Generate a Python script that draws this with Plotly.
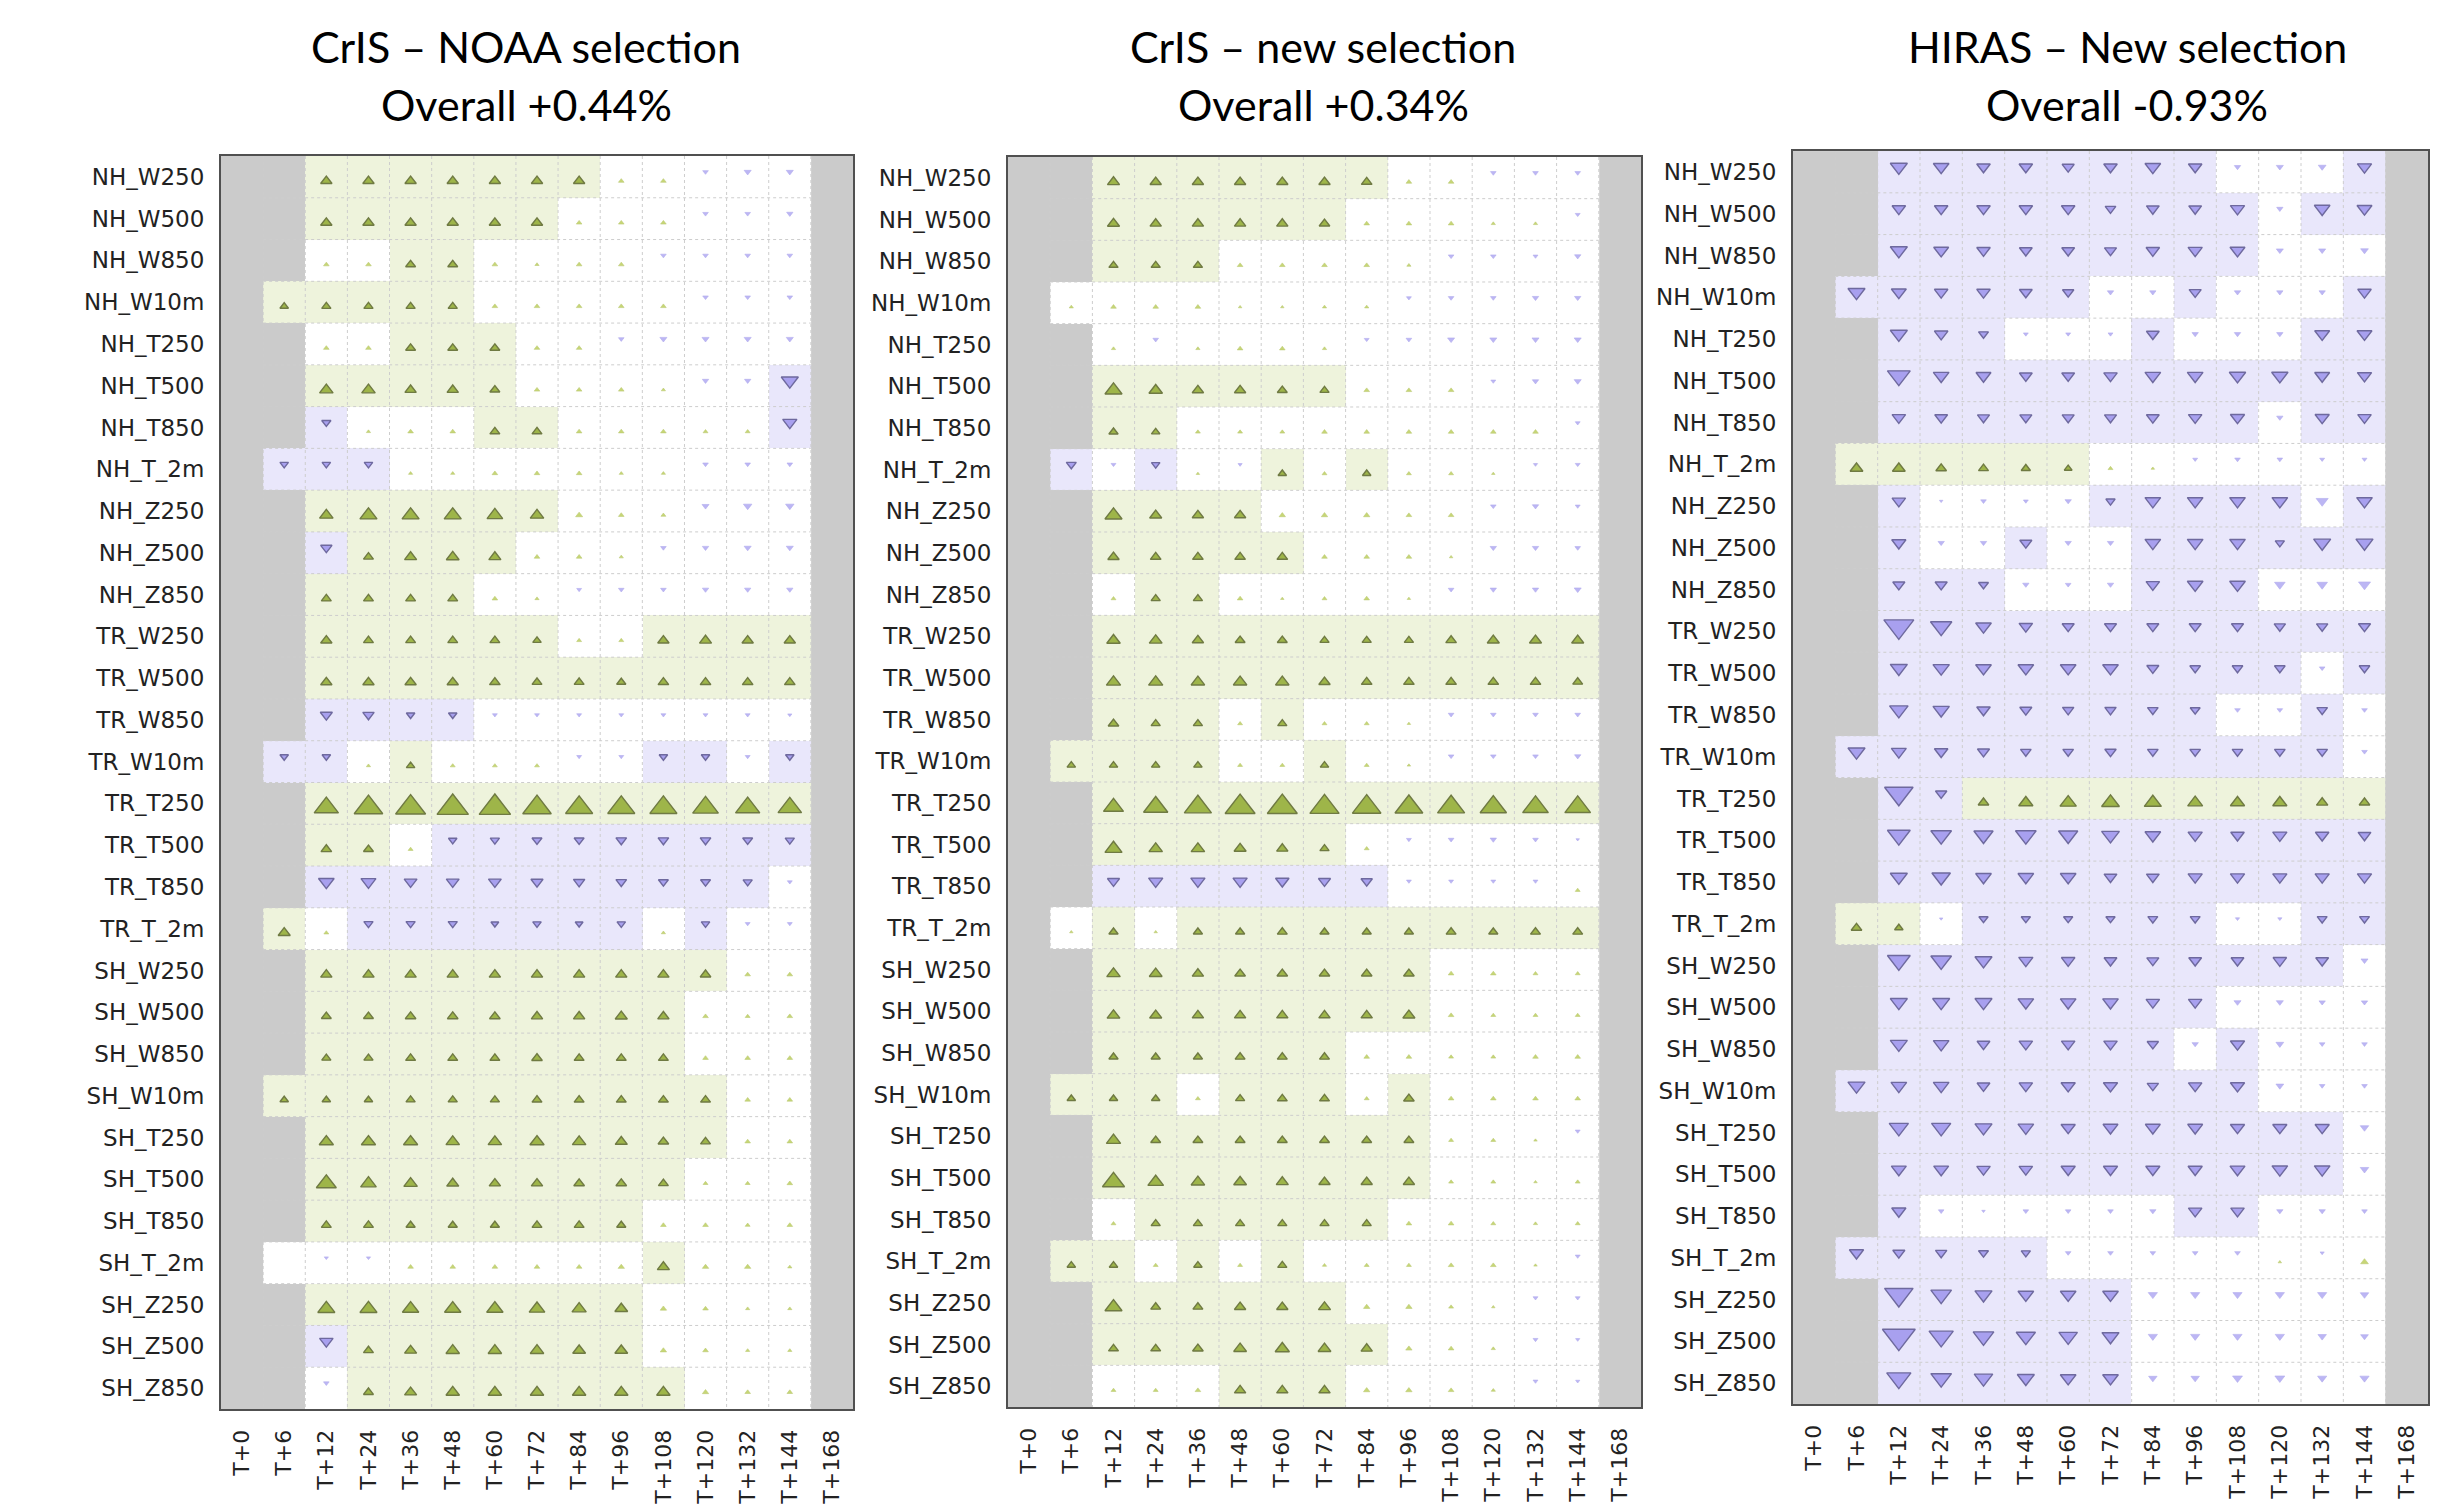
import numpy as np
import plotly.graph_objects as go

# ---------------- data ----------------
lead_times = ["T+0", "T+6", "T+12", "T+24", "T+36", "T+48", "T+60", "T+72",
              "T+84", "T+96", "T+108", "T+120", "T+132", "T+144", "T+168"]
# columns that carry scores (T+6 ... T+144)
data_leads = lead_times[1:-1]

row_labels = ["NH_W250", "NH_W500", "NH_W850", "NH_W10m", "NH_T250", "NH_T500",
              "NH_T850", "NH_T_2m", "NH_Z250", "NH_Z500", "NH_Z850",
              "TR_W250", "TR_W500", "TR_W850", "TR_W10m", "TR_T250", "TR_T500",
              "TR_T850", "TR_T_2m",
              "SH_W250", "SH_W500", "SH_W850", "SH_W10m", "SH_T250", "SH_T500",
              "SH_T850", "SH_T_2m", "SH_Z250", "SH_Z500", "SH_Z850"]

panel_titles = ["CrIS \u2013 NOAA selection", "CrIS \u2013 new selection", "HIRAS \u2013 New selection"]
panel_overall = ["Overall +0.44%", "Overall +0.34%", "Overall -0.93%"]

# significance per cell: g = better (significant), p = worse (significant), . = neutral, x = n/a
sig_noaa = [
    "xggggggg.....", "xgggggg......", "x..gg........", "ggggg........",
    "x..ggg.......", "xggggg......p", "xp...gg.....p", "ppp..........",
    "xgggggg......", "xpgggg.......", "xgggg........",
    "xgggggg..gggg", "xgggggggggggg", "xpppp........", "pp.g.....pp.p",
    "xgggggggggggg", "xgg.ppppppppp", "xppppppppppp.", "g.ppppppp.p..",
    "xgggggggggg..", "xggggggggg...", "xggggggggg...", "ggggggggggg..",
    "xgggggggggg..", "xggggggggg...", "xgggggggg....", ".........g...",
    "xgggggggg....", "xpggggggg....", "x.gggggggg...",
]
val_noaa = [
    [None, 1.2, 1.2, 1.2, 1.2, 1.2, 1.2, 1.2, 0.4, 0.4, -0.4, -0.6, -0.6],
    [None, 1.2, 1.2, 1.2, 1.2, 1.2, 1.2, 0.4, 0.4, 0.4, -0.4, -0.4, -0.5],
    [None, 0.4, 0.4, 1.0, 1.0, 0.4, 0.2, 0.4, 0.4, -0.4, -0.4, -0.4, -0.4],
    [0.8, 0.9, 0.9, 0.9, 0.9, 0.4, 0.4, 0.4, 0.4, 0.4, -0.4, -0.4, -0.4],
    [None, 0.4, 0.4, 1.0, 1.0, 1.0, 0.4, 0.4, -0.4, -0.6, -0.6, -0.6, -0.6],
    [None, 1.5, 1.5, 1.2, 1.2, 1.0, 0.4, 0.4, 0.4, 0.2, -0.5, -0.5, -2.0],
    [None, -0.9, 0.2, 0.4, 0.4, 1.0, 1.0, 0.4, 0.4, 0.4, 0.3, 0.3, -1.6],
    [-0.8, -0.8, -0.8, 0.2, 0.2, 0.4, 0.4, 0.4, 0.2, 0.2, -0.4, -0.4, -0.4],
    [None, 1.5, 2.0, 2.0, 2.0, 1.8, 1.5, 0.6, 0.4, 0.3, -0.6, -0.8, -0.8],
    [None, -1.2, 1.0, 1.3, 1.4, 1.3, 0.4, 0.4, 0.2, -0.4, -0.5, -0.6, -0.6],
    [None, 1.0, 1.0, 1.0, 1.0, 0.4, 0.2, -0.3, -0.4, -0.4, -0.5, -0.5, -0.5],
    [None, 1.2, 1.0, 1.0, 1.0, 1.0, 0.8, 0.3, 0.3, 1.2, 1.3, 1.2, 1.2],
    [None, 1.2, 1.2, 1.2, 1.2, 1.1, 1.0, 1.0, 0.9, 1.1, 1.1, 1.1, 1.1],
    [None, -1.3, -1.2, -0.8, -0.8, -0.3, -0.3, -0.3, -0.3, -0.3, -0.3, -0.3, -0.2],
    [-0.8, -0.8, 0.2, 0.8, 0.3, 0.3, 0.3, -0.3, -0.3, -0.8, -0.8, -0.3, -0.8],
    [None, 3.0, 3.6, 3.8, 4.0, 4.0, 3.6, 3.4, 3.4, 3.4, 3.2, 3.0, 2.9],
    [None, 1.1, 1.0, 0.3, -0.8, -0.9, -1.0, -1.0, -1.1, -1.1, -1.1, -1.0, -0.9],
    [None, -1.8, -1.7, -1.4, -1.4, -1.4, -1.3, -1.2, -1.1, -1.0, -1.0, -0.9, -0.3],
    [1.3, 0.3, -0.9, -0.9, -0.9, -0.7, -0.8, -0.7, -0.8, 0.2, -0.8, -0.3, -0.3],
    [None, 1.2, 1.2, 1.2, 1.2, 1.2, 1.2, 1.2, 1.2, 1.2, 1.1, 0.4, 0.4],
    [None, 1.0, 1.0, 1.1, 1.1, 1.1, 1.2, 1.2, 1.3, 1.2, 0.4, 0.3, 0.4],
    [None, 0.9, 0.9, 1.0, 1.0, 1.0, 1.1, 1.0, 1.0, 1.0, 0.4, 0.4, 0.4],
    [0.8, 0.8, 0.8, 0.9, 0.9, 0.9, 1.0, 1.0, 1.0, 1.0, 1.0, 0.4, 0.4],
    [None, 1.6, 1.6, 1.6, 1.5, 1.5, 1.6, 1.5, 1.3, 1.1, 1.0, 0.4, 0.4],
    [None, 2.4, 1.8, 1.5, 1.3, 1.2, 1.2, 1.1, 1.1, 1.0, 0.3, 0.3, 0.4],
    [None, 1.0, 1.0, 0.9, 0.9, 0.9, 1.0, 1.0, 0.9, 0.4, 0.4, 0.3, 0.4],
    [0.0, -0.2, -0.2, 0.4, 0.4, 0.4, 0.4, 0.4, 0.5, 1.3, 0.5, 0.5, 0.2],
    [None, 2.0, 2.0, 1.9, 1.9, 1.9, 1.8, 1.6, 1.4, 0.5, 0.4, 0.2, 0.2],
    [None, -1.5, 1.0, 1.3, 1.5, 1.5, 1.5, 1.4, 1.4, 0.5, 0.4, 0.2, 0.2],
    [None, -0.4, 1.0, 1.3, 1.5, 1.5, 1.5, 1.5, 1.5, 1.5, 0.5, 0.4, 0.4],
]

sig_new = [
    "xggggggg.....", "xgggggg......", "xggg.........", ".............",
    "x............", "xgggggg......", "xgg..........", "p.p..g.g.....",
    "xgggg........", "xggggg.......", "x.gg.........",
    "xgggggggggggg", "xgggggggggggg", "xggg.g.......", "gggg..g......",
    "xgggggggggggg", "xgggggg......", "xppppppp.....", ".g.gggggggggg",
    "xgggggggg....", "xgggggggg....", "xgggggg......", "ggg.ggg.g....",
    "xgggggggg....", "xgggggggg....", "x.gggggg.....", "gg.g.g.......",
    "xgggggg......", "xggggggg.....", "x...ggg......",
]
val_new = [
    [None, 1.3, 1.2, 1.2, 1.2, 1.2, 1.2, 1.1, 0.4, 0.4, -0.4, -0.4, -0.4],
    [None, 1.3, 1.2, 1.2, 1.2, 1.2, 1.1, 0.4, 0.4, 0.4, 0.2, 0.2, -0.3],
    [None, 0.9, 0.9, 0.9, 0.4, 0.4, 0.4, 0.4, 0.2, -0.4, -0.4, -0.3, -0.5],
    [0.2, 0.4, 0.4, 0.4, 0.1, 0.1, 0.2, 0.2, -0.3, -0.4, -0.4, -0.5, -0.5],
    [None, 0.2, -0.4, 0.2, 0.4, 0.4, 0.2, -0.3, -0.4, -0.6, -0.6, -0.6, -0.6],
    [None, 2.0, 1.5, 1.2, 1.2, 1.0, 0.9, 0.4, 0.4, 0.4, -0.3, -0.5, -0.6],
    [None, 0.9, 0.8, 0.3, 0.3, 0.3, 0.4, 0.4, 0.4, 0.4, 0.4, 0.4, -0.3],
    [-1.0, -0.3, -0.8, 0.1, -0.2, 0.8, 0.3, 0.8, 0.3, 0.3, 0.1, -0.2, -0.3],
    [None, 2.0, 1.3, 1.2, 1.2, 0.5, 0.5, 0.5, 0.4, 0.4, -0.4, -0.5, -0.3],
    [None, 1.2, 1.1, 1.1, 1.1, 1.1, 0.4, 0.4, 0.4, 0.1, -0.5, -0.5, -0.4],
    [None, 0.3, 0.9, 0.9, 0.4, 0.1, 0.3, 0.4, 0.1, -0.4, -0.5, -0.5, -0.6],
    [None, 1.5, 1.4, 1.2, 1.0, 1.0, 0.9, 0.9, 0.9, 1.1, 1.3, 1.3, 1.3],
    [None, 1.6, 1.6, 1.5, 1.5, 1.5, 1.2, 1.1, 1.1, 1.1, 1.1, 1.1, 1.0],
    [None, 1.1, 0.9, 0.9, 0.3, 0.9, 0.3, 0.3, 0.1, -0.4, -0.4, -0.4, -0.4],
    [0.8, 0.8, 0.8, 0.8, 0.3, 0.3, 0.8, 0.3, 0.1, -0.4, -0.4, -0.4, -0.5],
    [None, 2.4, 3.0, 3.4, 3.8, 3.8, 3.7, 3.6, 3.5, 3.4, 3.3, 3.2, 3.2],
    [None, 2.0, 1.5, 1.5, 1.3, 1.2, 0.9, 0.3, -0.3, -0.4, -0.5, -0.4, -0.1],
    [None, -1.3, -1.6, -1.6, -1.6, -1.5, -1.3, -1.2, -0.3, -0.3, -0.3, -0.3, 0.3],
    [0.1, 0.9, 0.1, 0.9, 0.9, 1.0, 0.9, 0.9, 0.9, 1.0, 0.9, 1.0, 1.0],
    [None, 1.5, 1.4, 1.2, 1.1, 1.1, 1.1, 1.1, 1.1, 0.4, 0.4, 0.3, 0.3],
    [None, 1.4, 1.3, 1.2, 1.2, 1.2, 1.2, 1.2, 1.3, 0.4, 0.3, 0.3, 0.3],
    [None, 0.9, 0.9, 0.9, 1.0, 1.0, 1.0, 0.4, 0.4, 0.3, 0.3, 0.4, 0.4],
    [0.8, 0.8, 0.8, 0.3, 0.9, 1.0, 1.0, 0.3, 1.1, 0.4, 0.4, 0.4, 0.4],
    [None, 1.6, 1.0, 1.0, 1.0, 1.0, 1.0, 1.0, 1.0, 0.3, 0.3, 0.1, -0.3],
    [None, 2.7, 1.8, 1.5, 1.4, 1.3, 1.2, 1.2, 1.2, 0.3, 0.3, 0.1, 0.3],
    [None, 0.3, 0.9, 0.9, 0.9, 0.9, 0.9, 0.9, 0.4, 0.4, 0.3, 0.2, 0.3],
    [0.8, 0.8, 0.3, 0.8, 0.3, 0.9, 0.2, 0.3, 0.3, 0.4, 0.4, 0.1, -0.3],
    [None, 2.0, 1.0, 1.0, 1.2, 1.2, 1.3, 0.5, 0.5, 0.3, 0.1, -0.3, -0.3],
    [None, 1.0, 1.0, 1.1, 1.4, 1.6, 1.4, 1.2, 0.5, 0.4, 0.2, -0.3, -0.2],
    [None, 0.3, 0.3, 0.4, 1.2, 1.2, 1.2, 0.5, 0.5, 0.4, 0.2, -0.3, -0.2],
]

sig_hiras = [
    "xpppppppp...p", "xppppppppp.pp", "xppppppppp...", "pppppp..p...p",
    "xppp...p...pp", "xpppppppppppp", "xppppppppp.pp", "gggggg.......",
    "xp....ppppp.p", "xp..p..pppppp", "xppp...ppp...",
    "xpppppppppppp", "xpppppppppp.p", "xpppppppp..p.", "pppppppppppp.",
    "xppgggggggggg", "xpppppppppppp", "xpppppppppppp", "gg.pppppp..pp",
    "xppppppppppp.", "xpppppppp....", "xppppppp.p...", "pppppppppp...",
    "xppppppppppp.", "xppppppppppp.", "xp......pp...", "ppppp........",
    "xpppppp......", "xpppppp......", "xpppppp......",
]
val_hiras = [
    [None, -2.0, -1.8, -1.5, -1.5, -1.3, -1.5, -1.8, -1.5, -0.5, -0.6, -0.7, -1.6],
    [None, -1.5, -1.5, -1.5, -1.5, -1.5, -1.1, -1.4, -1.4, -1.6, -0.5, -1.8, -1.7],
    [None, -2.0, -1.7, -1.5, -1.4, -1.4, -1.3, -1.5, -1.6, -1.7, -0.6, -0.6, -0.7],
    [-2.0, -1.7, -1.5, -1.5, -1.4, -1.2, -0.5, -0.5, -1.3, -0.5, -0.5, -0.5, -1.5],
    [None, -2.0, -1.5, -1.0, -0.3, -0.3, -0.3, -1.4, -0.5, -0.5, -0.5, -1.7, -1.7],
    [None, -2.8, -1.8, -1.7, -1.4, -1.4, -1.5, -1.8, -1.8, -1.9, -1.9, -1.7, -1.6],
    [None, -1.5, -1.4, -1.3, -1.3, -1.3, -1.3, -1.4, -1.5, -1.6, -0.5, -1.6, -1.5],
    [1.4, 1.4, 1.1, 1.0, 0.9, 0.7, 0.3, 0.1, -0.3, -0.4, -0.4, -0.3, -0.3],
    [None, -1.5, -0.1, -0.4, -0.3, -0.5, -0.9, -1.8, -1.8, -1.8, -1.8, -1.3, -1.8],
    [None, -1.6, -0.5, -0.5, -1.3, -0.5, -0.5, -1.8, -1.8, -1.8, -0.9, -2.0, -2.0],
    [None, -1.3, -1.3, -1.0, -0.5, -0.4, -0.5, -1.5, -1.8, -1.8, -1.1, -1.1, -1.3],
    [None, -3.8, -2.6, -1.8, -1.5, -1.3, -1.3, -1.3, -1.3, -1.3, -1.2, -1.2, -1.3],
    [None, -2.0, -1.9, -1.8, -1.8, -1.8, -1.8, -1.3, -1.1, -1.1, -1.1, -0.4, -1.1],
    [None, -2.2, -1.9, -1.5, -1.3, -1.2, -1.2, -1.1, -1.0, -0.4, -0.4, -1.1, -0.4],
    [-2.0, -1.7, -1.5, -1.3, -1.1, -1.1, -1.2, -1.1, -1.1, -1.1, -1.1, -1.1, -0.4],
    [None, -3.6, -1.2, 1.1, 1.6, 1.9, 2.1, 2.0, 1.7, 1.6, 1.6, 1.2, 1.1],
    [None, -2.8, -2.5, -2.3, -2.5, -2.3, -2.1, -1.8, -1.6, -1.5, -1.6, -1.5, -1.4],
    [None, -2.0, -2.2, -1.8, -1.8, -1.8, -1.4, -1.4, -1.6, -1.6, -1.6, -1.6, -1.6],
    [1.1, 0.8, -0.1, -0.9, -0.9, -0.9, -0.9, -1.0, -1.0, -0.2, -0.2, -1.0, -1.0],
    [None, -2.8, -2.5, -2.0, -1.6, -1.5, -1.4, -1.3, -1.4, -1.4, -1.5, -1.4, -0.6],
    [None, -2.0, -2.0, -2.0, -1.8, -1.8, -1.8, -1.5, -1.5, -0.6, -0.6, -0.5, -0.5],
    [None, -2.0, -1.8, -1.4, -1.5, -1.5, -1.5, -1.2, -0.5, -1.6, -0.7, -0.4, -0.4],
    [-2.0, -1.8, -1.8, -1.4, -1.5, -1.6, -1.6, -1.2, -1.5, -1.6, -0.7, -0.4, -0.4],
    [None, -2.3, -2.3, -2.0, -1.8, -1.6, -1.7, -1.7, -1.7, -1.6, -1.6, -1.6, -0.8],
    [None, -1.7, -1.7, -1.5, -1.5, -1.6, -1.6, -1.6, -1.6, -1.7, -1.8, -1.8, -0.8],
    [None, -1.6, -0.4, -0.1, -0.4, -0.4, -0.4, -0.5, -1.5, -1.5, -0.5, -0.5, -0.4],
    [-1.6, -1.3, -1.2, -1.0, -0.9, -0.4, -0.4, -0.4, -0.4, -0.4, 0.1, -0.2, 0.7],
    [None, -3.6, -2.5, -2.0, -1.8, -1.8, -1.8, -0.9, -0.9, -0.9, -0.9, -0.9, -0.8],
    [None, -4.2, -3.0, -2.5, -2.3, -2.2, -2.0, -0.9, -0.9, -0.9, -0.9, -0.8, -0.7],
    [None, -3.0, -2.5, -2.2, -2.0, -1.8, -1.8, -0.8, -0.8, -1.0, -1.0, -0.9, -0.9],
]

panels = [(sig_noaa, val_noaa), (sig_new, val_new), (sig_hiras, val_hiras)]

# ---------------- style ----------------
W, H = 2449, 1505
x_domains = [(221 / W, 853 / W), (1008 / W, 1641 / W), (1793 / W, 2428 / W)]
y_domains = [(1 - 1427 / H, 1 - 158 / H), (1 - 1425 / H, 1 - 159 / H), (1 - 1422 / H, 1 - 153 / H)]
title_x = [526, 1323, 2127]
GREY = "#cbcbcb"
BG_GREEN = "#eef3dc"
BG_PURPLE = "#e9e7fb"
SIZE_BASE, SIZE_K = 2.4, 6.2
label_font = "DejaVu Sans"

code = {"g": 1.0, ".": 0.0, "p": -1.0, "x": np.nan}
colorscale = [[0.0, BG_PURPLE], [1 / 3, BG_PURPLE], [1 / 3, "#ffffff"], [2 / 3, "#ffffff"],
              [2 / 3, BG_GREEN], [1.0, BG_GREEN]]

marker_styles = {
    ("up", True): dict(symbol="triangle-up", color="#7d9b0b", line=dict(color="#3a4703", width=1.4)),
    ("up", False): dict(symbol="triangle-up", color="#b0c63c", line=dict(color="#9fb43a", width=0.6)),
    ("down", True): dict(symbol="triangle-down", color="#8d83ea", line=dict(color="#3b3577", width=1.4)),
    ("down", False): dict(symbol="triangle-down", color="#a198f0", line=dict(color="#9188e6", width=0.6)),
}

fig = go.Figure()
data_cols = [lead_times.index(t) for t in data_leads]
row_idx = list(range(len(row_labels)))

for k, (sig, val) in enumerate(panels):
    xa = "x" if k == 0 else f"x{k + 1}"
    ya = "y" if k == 0 else f"y{k + 1}"
    z = [[code[c] for c in row] for row in sig]
    fig.add_trace(go.Heatmap(z=z, x=data_cols, y=row_idx, xaxis=xa, yaxis=ya,
                             colorscale=colorscale, zmin=-1.5, zmax=1.5,
                             showscale=False, hoverinfo="skip"))
    groups = {key: dict(x=[], y=[], s=[]) for key in marker_styles}
    for i, row in enumerate(val):
        for j, v in enumerate(row):
            if v is None or v == 0:
                continue
            direction = "up" if v > 0 else "down"
            signif = sig[i][j] in "gp"
            g = groups[(direction, signif)]
            g["x"].append(data_cols[j])
            g["y"].append(i + (0.1 if v > 0 else -0.12))
            g["s"].append(SIZE_BASE + SIZE_K * abs(v))
    for key, g in groups.items():
        if not g["x"]:
            continue
        st = marker_styles[key]
        fig.add_trace(go.Scatter(x=g["x"], y=g["y"], mode="markers", xaxis=xa, yaxis=ya,
                                 marker=dict(symbol=st["symbol"], color=st["color"],
                                             size=g["s"], line=st["line"]),
                                 hoverinfo="skip", showlegend=False))

    axis_common = dict(showgrid=False, zeroline=False, showline=True, mirror=True,
                       linecolor="#505050", linewidth=2, ticks="")
    fig.layout[("xaxis" if k == 0 else f"xaxis{k + 1}")] = dict(
        domain=list(x_domains[k]), anchor=ya, range=[-0.5, len(lead_times) - 0.5],
        tickmode="array", tickvals=list(range(len(lead_times))), ticktext=lead_times,
        tickangle=-90, tickfont=dict(family=label_font, size=22, color="#222222"),
        ticklabelstandoff=10, **axis_common)
    fig.layout[("yaxis" if k == 0 else f"yaxis{k + 1}")] = dict(
        domain=list(y_domains[k]), anchor=xa, range=[len(row_labels) - 0.5, -0.5],
        tickmode="array", tickvals=row_idx, ticktext=row_labels,
        tickfont=dict(family=label_font, size=23, color="#222222"),
        ticklabelstandoff=10, **axis_common)

    # dotted cell boundaries
    for j in range(1, len(lead_times)):
        fig.add_shape(type="line", xref=xa, yref=ya, x0=j - 0.5, x1=j - 0.5,
                      y0=-0.5, y1=len(row_labels) - 0.5,
                      line=dict(color="#cdcdcd", width=1, dash="dot"))
    for i in range(1, len(row_labels)):
        fig.add_shape(type="line", xref=xa, yref=ya, x0=0.5, x1=len(lead_times) - 1.5,
                      y0=i - 0.5, y1=i - 0.5,
                      line=dict(color="#cdcdcd", width=1, dash="dot"))

    fig.add_annotation(text=panel_titles[k], x=title_x[k] / W, y=1 - 47 / H, xref="paper", yref="paper",
                       showarrow=False, xanchor="center", yanchor="middle",
                       font=dict(family="Lato", size=43, color="#000000"))
    fig.add_annotation(text=panel_overall[k], x=title_x[k] / W, y=1 - 106 / H, xref="paper", yref="paper",
                       showarrow=False, xanchor="center", yanchor="middle",
                       font=dict(family="Lato", size=43, color="#000000"))

fig.update_layout(width=W, height=H, margin=dict(l=0, r=0, t=0, b=0),
                  paper_bgcolor="#ffffff", plot_bgcolor=GREY, showlegend=False)

fig.write_html("out.html")
